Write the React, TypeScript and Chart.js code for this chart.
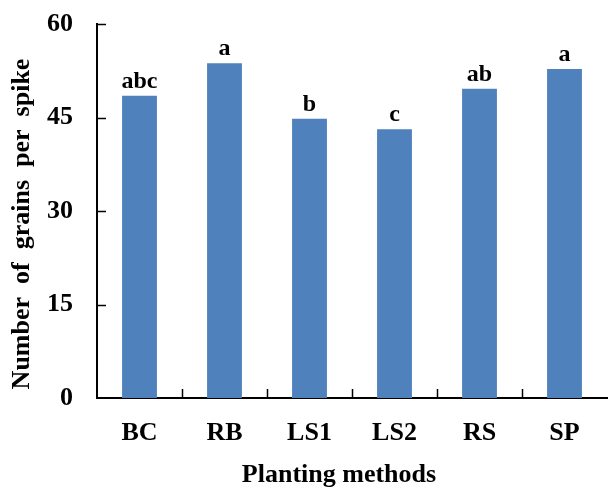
import React, { useEffect, useRef } from "react";
import { Chart, registerables } from "chart.js";

Chart.register(...registerables);

const categories = ["BC", "RB", "LS1", "LS2", "RS", "SP"];
const grainsPerSpike = [48.5, 53.7, 44.8, 43.1, 49.6, 52.8];
const significance = ["abc", "a", "b", "c", "ab", "a"];
const yMin = 0;
const yMax = 60;
const yStep = 15;

const FONT = "'Liberation Serif', 'Times New Roman', serif";

const innerTicksPlugin = {
  id: "innerTicks",
  afterDraw(chart: any) {
    const { ctx } = chart;
    const x = chart.scales.x;
    const y = chart.scales.y;
    const area = chart.chartArea;
    ctx.save();
    ctx.strokeStyle = "#000";
    ctx.lineWidth = 1.5;
    y.ticks.forEach((t: any) => {
      if (t.value === yMin) return;
      const py = Math.round(y.getPixelForValue(t.value)) + 0.5;
      ctx.beginPath();
      ctx.moveTo(area.left, py);
      ctx.lineTo(area.left + 9, py);
      ctx.stroke();
    });
    for (let i = 1; i < categories.length; i++) {
      const px =
        Math.round((x.getPixelForValue(i - 1) + x.getPixelForValue(i)) / 2) + 0.5;
      ctx.beginPath();
      ctx.moveTo(px, area.bottom);
      ctx.lineTo(px, area.bottom - 9);
      ctx.stroke();
    }
    // significance letters
    const meta = chart.getDatasetMeta(0);
    ctx.fillStyle = "#000";
    ctx.font = `bold 24px ${FONT}`;
    ctx.textAlign = "center";
    ctx.textBaseline = "alphabetic";
    meta.data.forEach((bar: any, i: number) => {
      ctx.fillText(significance[i], bar.x, bar.y - 8);
    });
    ctx.restore();
  },
};

export default function App() {
  const canvasRef = useRef<HTMLCanvasElement | null>(null);

  useEffect(() => {
    const canvas = canvasRef.current;
    if (!canvas) return;
    const chart = new Chart(canvas, {
      type: "bar",
      data: {
        labels: categories,
        datasets: [
          {
            data: grainsPerSpike,
            backgroundColor: "#4F81BD",
            borderWidth: 0,
            barPercentage: 0.41,
            categoryPercentage: 1,
          },
        ],
      },
      options: {
        responsive: false,
        animation: false,
        devicePixelRatio: 1,
        layout: { padding: { top: 24, right: 1, left: 0, bottom: 0 } },
        plugins: {
          legend: { display: false },
          tooltip: { enabled: false },
        },
        scales: {
          x: {
            offset: true,
            grid: { display: false, drawTicks: false },
            border: { display: true, color: "#000", width: 2 },
            ticks: {
              color: "#000",
              padding: 20,
              font: { family: FONT, size: 26, weight: "bold" },
            },
            title: {
              display: true,
              text: "Planting methods    ",
              color: "#000",
              font: { family: FONT, size: 26, weight: "bold" },
              padding: { top: 0, bottom: -3 },
            },
            afterFit(scale: any) {
              scale.height = 90;
              scale.paddingLeft = 0;
              scale.paddingRight = 0;
            },
          },
          y: {
            min: yMin,
            max: yMax,
            grid: { display: false, drawTicks: false },
            border: { display: true, color: "#000", width: 2 },
            ticks: {
              stepSize: yStep,
              color: "#000",
              padding: 24,
              font: { family: FONT, size: 26, weight: "bold" },
            },
            title: {
              display: true,
              text: "Number  of  grains  per  spike    ",
              color: "#000",
              font: { family: FONT, size: 26, weight: "bold" },
              padding: { top: 7, bottom: 0 },
            },
            afterFit(scale: any) {
              scale.width = 97;
              scale.paddingTop = 0;
              scale.paddingBottom = 0;
            },
          },
        },
      },
      plugins: [innerTicksPlugin],
    } as any);
    return () => chart.destroy();
  }, []);

  return (
    <div style={{ position: "absolute", left: 0, top: 0, width: 608, height: 488, background: "#fff" }}>
      <canvas ref={canvasRef} width={608} height={488} style={{ display: "block" }} />
    </div>
  );
}
